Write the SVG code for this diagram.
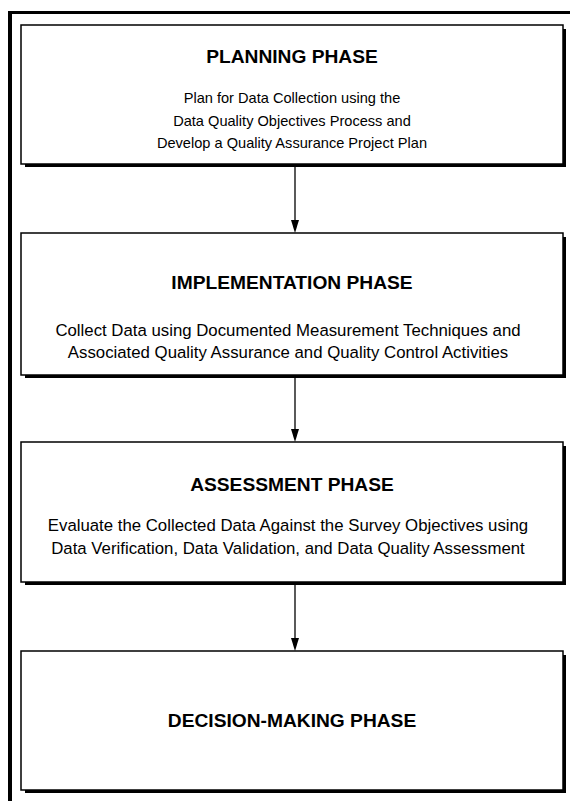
<svg xmlns="http://www.w3.org/2000/svg" width="570" height="801" viewBox="0 0 570 801">
<style>
.box{fill:#fff;stroke:#000;stroke-width:1.5;}
.shadow{fill:#000;}
.title{font-family:"Liberation Sans",Arial,sans-serif;font-weight:bold;font-size:19.2px;text-anchor:middle;fill:#000;}
.body{font-family:"Liberation Sans",Arial,sans-serif;font-size:16.8px;text-anchor:middle;fill:#000;}
.body1{font-family:"Liberation Sans",Arial,sans-serif;font-size:14.6px;text-anchor:middle;fill:#000;}
.conn{stroke:#000;stroke-width:1.3;fill:none;}
.head{fill:#000;}
</style>
<rect width="570" height="801" fill="#fff"/>
<g id="frame">
<line x1="10" y1="11" x2="10" y2="801" stroke="#000" stroke-width="4"/>
<line x1="8" y1="12.5" x2="570" y2="12.5" stroke="#000" stroke-width="3"/>
</g>
<g id="planning">
<rect class="shadow" x="25" y="163" width="541" height="4"/>
<rect class="shadow" x="562" y="29" width="4" height="138"/>
<rect class="box" x="21" y="25" width="542" height="139"/>
<text class="title" x="292" y="63">PLANNING PHASE</text>
<text class="body1" x="292" y="103">Plan for Data Collection using the</text>
<text class="body1" x="292" y="126">Data Quality Objectives Process and</text>
<text class="body1" x="292" y="148">Develop a Quality Assurance Project Plan</text>
</g>
<g id="implementation">
<rect class="shadow" x="25" y="374" width="541" height="4"/>
<rect class="shadow" x="562" y="237" width="4" height="141"/>
<rect class="box" x="21" y="233" width="542" height="142"/>
<text class="title" x="292" y="289">IMPLEMENTATION PHASE</text>
<text class="body" x="288" y="336">Collect Data using Documented Measurement Techniques and</text>
<text class="body" x="288" y="358">Associated Quality Assurance and Quality Control Activities</text>
</g>
<g id="assessment">
<rect class="shadow" x="25" y="581" width="541" height="4"/>
<rect class="shadow" x="562" y="446" width="4" height="139"/>
<rect class="box" x="21" y="442" width="542" height="140"/>
<text class="title" x="292" y="491">ASSESSMENT PHASE</text>
<text class="body" x="288" y="531">Evaluate the Collected Data Against the Survey Objectives using</text>
<text class="body" x="288" y="554">Data Verification, Data Validation, and Data Quality Assessment</text>
</g>
<g id="decision">
<rect class="shadow" x="25" y="789" width="541" height="4"/>
<rect class="shadow" x="562" y="655" width="4" height="138"/>
<rect class="box" x="21" y="651" width="542" height="139"/>
<text class="title" x="292" y="727">DECISION-MAKING PHASE</text>
</g>
<g id="connectors">
<line class="conn" x1="295" y1="167" x2="295" y2="222"/>
<path class="head" d="M291,220 L299,220 L295,233 Z"/>
<line class="conn" x1="295" y1="378" x2="295" y2="431"/>
<path class="head" d="M291,429 L299,429 L295,442 Z"/>
<line class="conn" x1="295" y1="585" x2="295" y2="640"/>
<path class="head" d="M291,638 L299,638 L295,651 Z"/>
</g>
</svg>
